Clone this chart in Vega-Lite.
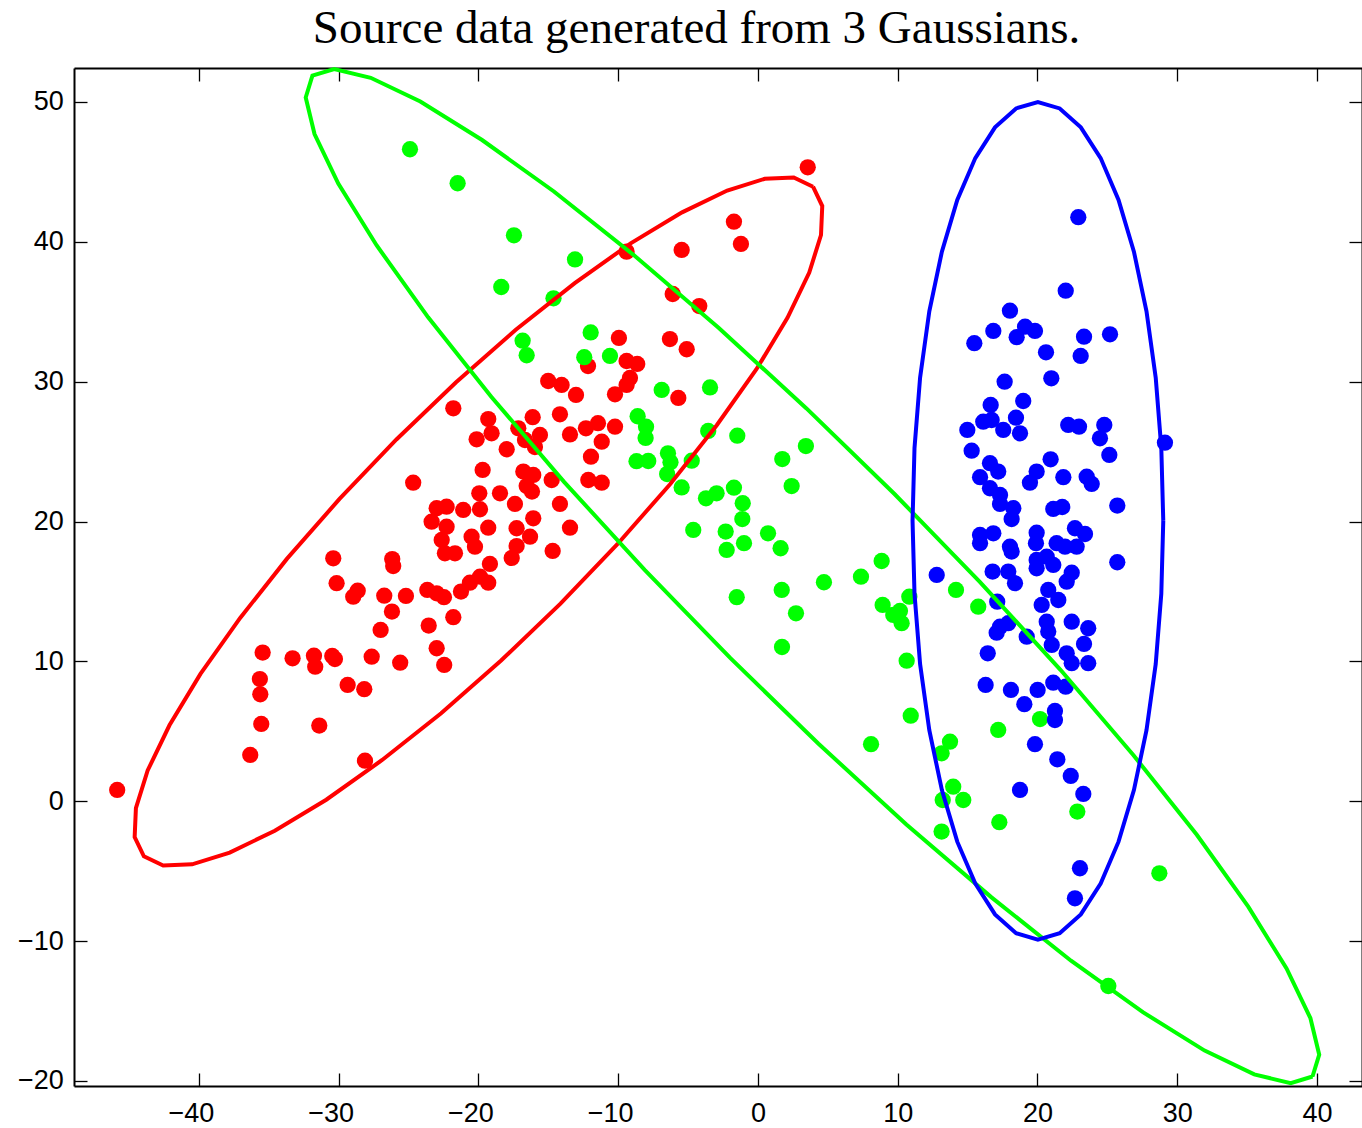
{
  "$schema": "https://vega.github.io/schema/vega-lite/v6.json",
  "width": 1288,
  "height": 1018,
  "autosize": {"type": "none"},
  "padding": {"left": 74, "top": 68, "right": 0, "bottom": 42},
  "background": "white",
  "config": {"view": {"stroke": null}},
  "title": {
    "text": "Source data generated from 3 Gaussians.",
    "font": "Liberation Serif",
    "fontSize": 47,
    "fontWeight": "normal",
    "color": "black",
    "anchor": "middle",
    "frame": "group",
    "dx": -21.5,
    "dy": 42,
    "baseline": "alphabetic",
    "offset": 13
  },
  "datasets": {
    "pts": [
      {"g":"r","x":3.56,"y":45.33},{"g":"r","x":-1.72,"y":41.44},{"g":"r","x":-1.22,"y":39.85},{"g":"r","x":-5.46,"y":39.42},
      {"g":"r","x":-9.40,"y":39.30},{"g":"r","x":-6.10,"y":36.27},{"g":"r","x":-4.20,"y":35.41},{"g":"r","x":-9.95,"y":33.13},
      {"g":"r","x":-6.30,"y":33.05},{"g":"r","x":-5.10,"y":32.32},{"g":"r","x":-12.16,"y":31.12},{"g":"r","x":-9.40,"y":31.48},
      {"g":"r","x":-8.64,"y":31.27},{"g":"r","x":-9.16,"y":30.27},{"g":"r","x":-9.40,"y":29.77},{"g":"r","x":-10.23,"y":29.10},
      {"g":"r","x":-5.70,"y":28.84},{"g":"r","x":-15.01,"y":30.05},{"g":"r","x":-14.05,"y":29.77},{"g":"r","x":-13.02,"y":29.05},
      {"g":"r","x":-14.17,"y":27.67},{"g":"r","x":-16.12,"y":27.46},{"g":"r","x":-17.15,"y":26.67},{"g":"r","x":-15.60,"y":26.19},
      {"g":"r","x":-15.96,"y":25.33},{"g":"r","x":-16.67,"y":25.83},{"g":"r","x":-17.98,"y":25.17},{"g":"r","x":-13.45,"y":26.23},
      {"g":"r","x":-12.31,"y":26.67},{"g":"r","x":-11.45,"y":27.03},{"g":"r","x":-10.23,"y":26.78},{"g":"r","x":-11.18,"y":25.71},
      {"g":"r","x":-11.95,"y":24.64},{"g":"r","x":-12.14,"y":22.97},{"g":"r","x":-11.18,"y":22.78},{"g":"r","x":-16.79,"y":23.57},
      {"g":"r","x":-16.08,"y":23.33},{"g":"r","x":-16.55,"y":22.54},{"g":"r","x":-16.17,"y":22.14},{"g":"r","x":-14.76,"y":22.97},
      {"g":"r","x":-14.17,"y":21.26},{"g":"r","x":-13.45,"y":19.56},{"g":"r","x":-14.69,"y":17.90},{"g":"r","x":-21.80,"y":28.10},
      {"g":"r","x":-19.30,"y":27.33},{"g":"r","x":-19.06,"y":26.31},{"g":"r","x":-20.13,"y":25.88},{"g":"r","x":-19.70,"y":23.69},
      {"g":"r","x":-24.67,"y":22.78},{"g":"r","x":-19.94,"y":22.02},{"g":"r","x":-18.46,"y":22.02},{"g":"r","x":-17.39,"y":21.26},
      {"g":"r","x":-19.89,"y":20.88},{"g":"r","x":-22.99,"y":20.95},{"g":"r","x":-22.28,"y":21.06},{"g":"r","x":-21.09,"y":20.83},
      {"g":"r","x":-23.35,"y":19.99},{"g":"r","x":-22.28,"y":19.63},{"g":"r","x":-19.30,"y":19.56},{"g":"r","x":-20.49,"y":18.92},
      {"g":"r","x":-20.25,"y":18.20},{"g":"r","x":-22.63,"y":18.68},{"g":"r","x":-21.68,"y":17.73},{"g":"r","x":-22.40,"y":17.73},
      {"g":"r","x":-16.08,"y":20.23},{"g":"r","x":-17.27,"y":19.52},{"g":"r","x":-16.31,"y":18.92},{"g":"r","x":-17.27,"y":18.25},
      {"g":"r","x":-17.62,"y":17.40},
      {"g":"r","x":-30.39,"y":17.37},{"g":"r","x":-26.17,"y":17.32},{"g":"r","x":-26.10,"y":16.82},{"g":"r","x":-30.15,"y":15.59},
      {"g":"r","x":-28.96,"y":14.63},{"g":"r","x":-28.64,"y":15.06},{"g":"r","x":-26.74,"y":14.70},{"g":"r","x":-25.19,"y":14.68},
      {"g":"r","x":-26.19,"y":13.56},{"g":"r","x":-23.66,"y":15.11},{"g":"r","x":-22.99,"y":14.87},{"g":"r","x":-22.47,"y":14.59},
      {"g":"r","x":-21.25,"y":14.99},{"g":"r","x":-20.61,"y":15.63},{"g":"r","x":-19.89,"y":16.06},{"g":"r","x":-19.30,"y":15.63},
      {"g":"r","x":-19.18,"y":16.97},{"g":"r","x":-21.80,"y":13.16},{"g":"r","x":-27.00,"y":12.25},{"g":"r","x":-23.56,"y":12.56},
      {"g":"r","x":-22.99,"y":10.94},{"g":"r","x":-22.45,"y":9.75},{"g":"r","x":-35.44,"y":10.63},{"g":"r","x":-33.30,"y":10.22},
      {"g":"r","x":-31.77,"y":10.41},{"g":"r","x":-31.68,"y":9.62},{"g":"r","x":-30.46,"y":10.39},{"g":"r","x":-30.27,"y":10.17},
      {"g":"r","x":-27.64,"y":10.34},{"g":"r","x":-25.60,"y":9.91},{"g":"r","x":-35.64,"y":8.74},{"g":"r","x":-35.61,"y":7.65},
      {"g":"r","x":-29.36,"y":8.32},{"g":"r","x":-28.17,"y":8.01},{"g":"r","x":-35.54,"y":5.53},{"g":"r","x":-31.39,"y":5.41},
      {"g":"r","x":-36.33,"y":3.31},{"g":"r","x":-28.12,"y":2.90},{"g":"r","x":-45.85,"y":0.81},

      {"g":"g","x":-24.90,"y":46.62},{"g":"g","x":-21.49,"y":44.19},{"g":"g","x":-17.46,"y":40.47},{"g":"g","x":-13.09,"y":38.74},
      {"g":"g","x":-18.37,"y":36.77},{"g":"g","x":-14.63,"y":35.96},{"g":"g","x":-16.84,"y":32.93},{"g":"g","x":-16.55,"y":31.89},
      {"g":"g","x":-11.97,"y":33.52},{"g":"g","x":-12.43,"y":31.75},{"g":"g","x":-10.59,"y":31.84},{"g":"g","x":-6.89,"y":29.41},
      {"g":"g","x":-3.43,"y":29.59},{"g":"g","x":-8.61,"y":27.53},{"g":"g","x":-8.01,"y":26.78},{"g":"g","x":-8.04,"y":25.98},
      {"g":"g","x":-8.69,"y":24.32},{"g":"g","x":-7.85,"y":24.33},{"g":"g","x":-6.44,"y":24.88},{"g":"g","x":-6.26,"y":24.24},
      {"g":"g","x":-6.50,"y":23.40},{"g":"g","x":-4.74,"y":24.35},{"g":"g","x":-5.46,"y":22.44},{"g":"g","x":-3.56,"y":26.48},
      {"g":"g","x":-1.48,"y":26.14},{"g":"g","x":-3.72,"y":21.66},{"g":"g","x":-2.96,"y":22.02},{"g":"g","x":-1.72,"y":22.42},
      {"g":"g","x":-1.09,"y":21.31},{"g":"g","x":-1.12,"y":20.18},{"g":"g","x":-4.63,"y":19.40},{"g":"g","x":-2.31,"y":19.28},
      {"g":"g","x":-2.24,"y":17.97},{"g":"g","x":-1.00,"y":18.45},{"g":"g","x":0.72,"y":19.16},{"g":"g","x":1.62,"y":18.09},
      {"g":"g","x":3.43,"y":25.40},{"g":"g","x":1.74,"y":24.47},{"g":"g","x":2.41,"y":22.54},{"g":"g","x":4.72,"y":15.66},
      {"g":"g","x":1.70,"y":15.11},{"g":"g","x":-1.52,"y":14.59},{"g":"g","x":2.72,"y":13.44},{"g":"g","x":1.72,"y":11.03},
      {"g":"g","x":8.85,"y":17.18},{"g":"g","x":7.37,"y":16.06},{"g":"g","x":10.83,"y":14.63},{"g":"g","x":8.92,"y":14.04},
      {"g":"g","x":9.68,"y":13.32},{"g":"g","x":10.16,"y":13.61},{"g":"g","x":10.28,"y":12.73},{"g":"g","x":14.17,"y":15.11},
      {"g":"g","x":15.76,"y":13.91},{"g":"g","x":10.64,"y":10.05},{"g":"g","x":10.93,"y":6.12},{"g":"g","x":8.09,"y":4.08},
      {"g":"g","x":13.74,"y":4.26},{"g":"g","x":13.14,"y":3.43},{"g":"g","x":17.19,"y":5.10},{"g":"g","x":20.18,"y":5.88},
      {"g":"g","x":13.97,"y":1.04},{"g":"g","x":13.22,"y":0.09},{"g":"g","x":14.69,"y":0.09},{"g":"g","x":13.14,"y":-2.17},
      {"g":"g","x":17.27,"y":-1.50},{"g":"g","x":22.85,"y":-0.74},{"g":"g","x":28.72,"y":-5.15},{"g":"g","x":25.07,"y":-13.21},

      {"g":"b","x":22.92,"y":41.76},{"g":"b","x":22.02,"y":36.51},{"g":"b","x":18.03,"y":35.08},{"g":"b","x":16.84,"y":33.63},
      {"g":"b","x":15.48,"y":32.75},{"g":"b","x":19.11,"y":33.93},{"g":"b","x":19.82,"y":33.63},{"g":"b","x":18.51,"y":33.18},
      {"g":"b","x":20.61,"y":32.10},{"g":"b","x":23.33,"y":33.22},{"g":"b","x":23.09,"y":31.84},{"g":"b","x":25.19,"y":33.39},
      {"g":"b","x":17.65,"y":30.00},{"g":"b","x":20.99,"y":30.24},{"g":"b","x":18.98,"y":28.62},{"g":"b","x":18.46,"y":27.43},
      {"g":"b","x":16.65,"y":28.34},{"g":"b","x":16.12,"y":27.14},{"g":"b","x":16.72,"y":27.26},{"g":"b","x":17.55,"y":26.55},
      {"g":"b","x":18.75,"y":26.31},{"g":"b","x":14.98,"y":26.55},{"g":"b","x":22.20,"y":26.91},{"g":"b","x":22.97,"y":26.78},
      {"g":"b","x":24.78,"y":26.91},{"g":"b","x":24.47,"y":25.95},{"g":"b","x":25.14,"y":24.76},{"g":"b","x":29.12,"y":25.64},
      {"g":"b","x":15.29,"y":25.07},{"g":"b","x":16.60,"y":24.17},{"g":"b","x":17.19,"y":23.57},{"g":"b","x":15.89,"y":23.17},
      {"g":"b","x":16.60,"y":22.38},{"g":"b","x":17.32,"y":21.90},{"g":"b","x":20.94,"y":24.45},{"g":"b","x":19.94,"y":23.57},
      {"g":"b","x":19.46,"y":22.78},{"g":"b","x":21.85,"y":23.17},{"g":"b","x":23.52,"y":23.21},{"g":"b","x":23.88,"y":22.69},
      {"g":"b","x":25.71,"y":21.14},{"g":"b","x":17.32,"y":21.26},{"g":"b","x":18.27,"y":20.95},{"g":"b","x":18.15,"y":20.18},
      {"g":"b","x":21.13,"y":20.90},{"g":"b","x":21.77,"y":21.04},{"g":"b","x":15.89,"y":19.04},{"g":"b","x":16.84,"y":19.16},
      {"g":"b","x":15.89,"y":18.45},{"g":"b","x":18.03,"y":18.20},{"g":"b","x":18.15,"y":17.85},{"g":"b","x":19.94,"y":19.20},
      {"g":"b","x":19.89,"y":18.45},{"g":"b","x":19.94,"y":17.25},{"g":"b","x":19.94,"y":16.66},{"g":"b","x":20.66,"y":17.49},
      {"g":"b","x":21.13,"y":16.90},{"g":"b","x":22.68,"y":19.52},{"g":"b","x":23.40,"y":19.11},{"g":"b","x":22.80,"y":18.20},
      {"g":"b","x":21.97,"y":18.20},{"g":"b","x":21.37,"y":18.45},{"g":"b","x":22.45,"y":16.34},{"g":"b","x":22.09,"y":15.70},
      {"g":"b","x":16.79,"y":16.42},{"g":"b","x":17.91,"y":16.42},{"g":"b","x":18.39,"y":15.59},{"g":"b","x":12.79,"y":16.18},
      {"g":"b","x":20.77,"y":15.11},{"g":"b","x":20.30,"y":14.04},{"g":"b","x":21.49,"y":14.39},{"g":"b","x":17.12,"y":14.27},
      {"g":"b","x":17.32,"y":12.48},{"g":"b","x":17.91,"y":12.73},{"g":"b","x":17.08,"y":12.05},{"g":"b","x":20.66,"y":12.84},
      {"g":"b","x":20.77,"y":12.13},{"g":"b","x":21.02,"y":11.18},{"g":"b","x":19.23,"y":11.77},{"g":"b","x":22.45,"y":12.84},
      {"g":"b","x":23.63,"y":12.37},{"g":"b","x":23.33,"y":11.25},{"g":"b","x":22.09,"y":10.58},{"g":"b","x":22.45,"y":9.87},
      {"g":"b","x":23.63,"y":9.87},{"g":"b","x":16.44,"y":10.58},{"g":"b","x":16.29,"y":8.32},{"g":"b","x":18.10,"y":7.96},
      {"g":"b","x":19.06,"y":6.94},{"g":"b","x":20.01,"y":7.96},{"g":"b","x":21.13,"y":8.48},{"g":"b","x":22.02,"y":8.19},
      {"g":"b","x":21.25,"y":6.46},{"g":"b","x":21.25,"y":5.81},{"g":"b","x":19.82,"y":4.08},{"g":"b","x":21.42,"y":3.00},
      {"g":"b","x":22.38,"y":1.81},{"g":"b","x":23.28,"y":0.52},{"g":"b","x":18.75,"y":0.81},{"g":"b","x":23.04,"y":-4.79},
      {"g":"b","x":22.68,"y":-6.94},{"g":"b","x":25.71,"y":17.09}
    ],
    "ell": [
      {"e":"r","k":0,"x":3.94,"y":43.94},{"e":"r","k":1,"x":2.56,"y":44.60},{"e":"r","k":2,"x":0.49,"y":44.51},{"e":"r","k":3,"x":-2.20,"y":43.67},
      {"e":"r","k":4,"x":-5.43,"y":42.11},{"e":"r","k":5,"x":-9.11,"y":39.89},{"e":"r","k":6,"x":-13.11,"y":37.05},{"e":"r","k":7,"x":-17.33,"y":33.71},
      {"e":"r","k":8,"x":-21.62,"y":29.94},{"e":"r","k":9,"x":-25.87,"y":25.87},{"e":"r","k":10,"x":-29.94,"y":21.62},{"e":"r","k":11,"x":-33.71,"y":17.33},
      {"e":"r","k":12,"x":-37.05,"y":13.11},{"e":"r","k":13,"x":-39.89,"y":9.11},{"e":"r","k":14,"x":-42.11,"y":5.43},{"e":"r","k":15,"x":-43.67,"y":2.20},
      {"e":"r","k":16,"x":-44.51,"y":-0.49},{"e":"r","k":17,"x":-44.60,"y":-2.56},{"e":"r","k":18,"x":-43.94,"y":-3.94},{"e":"r","k":19,"x":-42.56,"y":-4.60},
      {"e":"r","k":20,"x":-40.49,"y":-4.51},{"e":"r","k":21,"x":-37.80,"y":-3.67},{"e":"r","k":22,"x":-34.57,"y":-2.11},{"e":"r","k":23,"x":-30.89,"y":0.11},
      {"e":"r","k":24,"x":-26.89,"y":2.95},{"e":"r","k":25,"x":-22.67,"y":6.29},{"e":"r","k":26,"x":-18.38,"y":10.06},{"e":"r","k":27,"x":-14.13,"y":14.13},
      {"e":"r","k":28,"x":-10.06,"y":18.38},{"e":"r","k":29,"x":-6.29,"y":22.67},{"e":"r","k":30,"x":-2.95,"y":26.89},{"e":"r","k":31,"x":-0.11,"y":30.89},
      {"e":"r","k":32,"x":2.11,"y":34.57},{"e":"r","k":33,"x":3.67,"y":37.80},{"e":"r","k":34,"x":4.51,"y":40.49},{"e":"r","k":35,"x":4.60,"y":42.56},
      {"e":"r","k":36,"x":3.94,"y":43.94},

      {"e":"g","k":0,"x":39.68,"y":-19.68},{"e":"g","k":1,"x":40.16,"y":-18.12},{"e":"g","k":2,"x":39.53,"y":-15.51},{"e":"g","k":3,"x":37.82,"y":-11.95},
      {"e":"g","k":4,"x":35.08,"y":-7.54},{"e":"g","k":5,"x":31.40,"y":-2.40},{"e":"g","k":6,"x":26.87,"y":3.29},{"e":"g","k":7,"x":21.66,"y":9.38},
      {"e":"g","k":8,"x":15.89,"y":15.67},{"e":"g","k":9,"x":9.77,"y":21.97},{"e":"g","k":10,"x":3.47,"y":28.09},{"e":"g","k":11,"x":-2.82,"y":33.86},
      {"e":"g","k":12,"x":-8.91,"y":39.07},{"e":"g","k":13,"x":-14.60,"y":43.60},{"e":"g","k":14,"x":-19.74,"y":47.28},{"e":"g","k":15,"x":-24.16,"y":50.03},
      {"e":"g","k":16,"x":-27.71,"y":51.73},{"e":"g","k":17,"x":-30.32,"y":52.36},{"e":"g","k":18,"x":-31.88,"y":51.88},{"e":"g","k":19,"x":-32.36,"y":50.32},
      {"e":"g","k":20,"x":-31.73,"y":47.71},{"e":"g","k":21,"x":-30.03,"y":44.16},{"e":"g","k":22,"x":-27.28,"y":39.74},{"e":"g","k":23,"x":-23.60,"y":34.60},
      {"e":"g","k":24,"x":-19.07,"y":28.91},{"e":"g","k":25,"x":-13.86,"y":22.82},{"e":"g","k":26,"x":-8.09,"y":16.53},{"e":"g","k":27,"x":-1.97,"y":10.23},
      {"e":"g","k":28,"x":4.33,"y":4.11},{"e":"g","k":29,"x":10.62,"y":-1.66},{"e":"g","k":30,"x":16.71,"y":-6.87},{"e":"g","k":31,"x":22.40,"y":-11.40},
      {"e":"g","k":32,"x":27.54,"y":-15.08},{"e":"g","k":33,"x":31.96,"y":-17.83},{"e":"g","k":34,"x":35.51,"y":-19.53},{"e":"g","k":35,"x":38.12,"y":-20.16},
      {"e":"g","k":36,"x":39.68,"y":-19.68},

      {"e":"b","k":0,"x":29.00,"y":20.05},{"e":"b","k":1,"x":28.86,"y":25.25},{"e":"b","k":2,"x":28.46,"y":30.29},{"e":"b","k":3,"x":27.80,"y":35.03},
      {"e":"b","k":4,"x":26.90,"y":39.30},{"e":"b","k":5,"x":25.80,"y":42.99},{"e":"b","k":6,"x":24.52,"y":45.99},{"e":"b","k":7,"x":23.10,"y":48.19},
      {"e":"b","k":8,"x":21.59,"y":49.54},{"e":"b","k":9,"x":20.03,"y":50.00},{"e":"b","k":10,"x":18.47,"y":49.54},{"e":"b","k":11,"x":16.96,"y":48.19},
      {"e":"b","k":12,"x":15.55,"y":45.99},{"e":"b","k":13,"x":14.26,"y":42.99},{"e":"b","k":14,"x":13.16,"y":39.30},{"e":"b","k":15,"x":12.26,"y":35.03},
      {"e":"b","k":16,"x":11.60,"y":30.29},{"e":"b","k":17,"x":11.20,"y":25.25},{"e":"b","k":18,"x":11.06,"y":20.05},{"e":"b","k":19,"x":11.20,"y":14.85},
      {"e":"b","k":20,"x":11.60,"y":9.81},{"e":"b","k":21,"x":12.26,"y":5.08},{"e":"b","k":22,"x":13.16,"y":0.80},{"e":"b","k":23,"x":14.26,"y":-2.89},
      {"e":"b","k":24,"x":15.55,"y":-5.89},{"e":"b","k":25,"x":16.96,"y":-8.09},{"e":"b","k":26,"x":18.47,"y":-9.44},{"e":"b","k":27,"x":20.03,"y":-9.90},
      {"e":"b","k":28,"x":21.59,"y":-9.44},{"e":"b","k":29,"x":23.10,"y":-8.09},{"e":"b","k":30,"x":24.52,"y":-5.89},{"e":"b","k":31,"x":25.80,"y":-2.89},
      {"e":"b","k":32,"x":26.90,"y":0.80},{"e":"b","k":33,"x":27.80,"y":5.08},{"e":"b","k":34,"x":28.46,"y":9.81},{"e":"b","k":35,"x":28.86,"y":14.85},
      {"e":"b","k":36,"x":29.00,"y":20.05}
    ]
  },
  "resolve": {"axis": {"x": "independent", "y": "independent"}},
  "layer": [
    {
      "data": {"name": "pts"},
      "mark": {"type": "circle", "size": 265, "opacity": 1},
      "encoding": {
        "x": {
          "field": "x", "type": "quantitative",
          "scale": {"domain": [-48.94, 43.22], "nice": false, "zero": false},
          "axis": {
            "orient": "bottom", "title": null, "grid": false,
            "values": [-40, -30, -20, -10, 0, 10, 20, 30, 40],
            "tickSize": -13, "tickWidth": 1.3, "tickColor": "black",
            "domainColor": "black", "domainWidth": 2,
            "labelFont": "Liberation Sans", "labelFontSize": 27, "labelColor": "black",
            "labelPadding": 27.4, "labelFlush": false, "labelOverlap": false,
            "labelOffset": {"condition": {"test": "datum.value < 0", "value": -8}, "value": 0}
          }
        },
        "y": {
          "field": "y", "type": "quantitative",
          "scale": {"domain": [-20.36, 52.43], "nice": false, "zero": false},
          "axis": {
            "orient": "left", "title": null, "grid": false,
            "values": [-20, -10, 0, 10, 20, 30, 40, 50],
            "tickSize": -13, "tickWidth": 1.3, "tickColor": "black",
            "domainColor": "black", "domainWidth": 2,
            "labelFont": "Liberation Sans", "labelFontSize": 27, "labelColor": "black",
            "labelPadding": 23.7, "labelFlush": false, "labelOverlap": false
          }
        },
        "color": {
          "field": "g", "type": "nominal",
          "scale": {"domain": ["r", "g", "b"], "range": ["#ff0000", "#00ff00", "#0000ff"]},
          "legend": null
        }
      }
    },
    {
      "data": {"name": "ell"},
      "transform": [{"filter": "datum.e === 'r'"}],
      "mark": {"type": "line", "color": "#ff0000", "strokeWidth": 4},
      "encoding": {
        "x": {
          "field": "x", "type": "quantitative",
          "scale": {"domain": [-48.94, 43.22], "nice": false, "zero": false},
          "axis": {
            "orient": "top", "title": null, "grid": false, "labels": false,
            "values": [-40, -30, -20, -10, 0, 10, 20, 30, 40],
            "tickSize": -13, "tickWidth": 1.3, "tickColor": "black",
            "domainColor": "black", "domainWidth": 2
          }
        },
        "y": {
          "field": "y", "type": "quantitative",
          "scale": {"domain": [-20.36, 52.43], "nice": false, "zero": false},
          "axis": {
            "orient": "right", "title": null, "grid": false, "labels": false,
            "values": [-20, -10, 0, 10, 20, 30, 40, 50],
            "tickSize": -13, "tickWidth": 1.3, "tickColor": "black",
            "domainColor": "black", "domainWidth": 2
          }
        },
        "order": {"field": "k", "type": "quantitative"}
      }
    },
    {
      "data": {"name": "ell"},
      "transform": [{"filter": "datum.e === 'g'"}],
      "mark": {"type": "line", "color": "#00ff00", "strokeWidth": 4},
      "encoding": {
        "x": {"field": "x", "type": "quantitative", "scale": {"domain": [-48.94, 43.22], "nice": false, "zero": false}, "axis": null},
        "y": {"field": "y", "type": "quantitative", "scale": {"domain": [-20.36, 52.43], "nice": false, "zero": false}, "axis": null},
        "order": {"field": "k", "type": "quantitative"}
      }
    },
    {
      "data": {"name": "ell"},
      "transform": [{"filter": "datum.e === 'b'"}],
      "mark": {"type": "line", "color": "#0000ff", "strokeWidth": 4},
      "encoding": {
        "x": {"field": "x", "type": "quantitative", "scale": {"domain": [-48.94, 43.22], "nice": false, "zero": false}, "axis": null},
        "y": {"field": "y", "type": "quantitative", "scale": {"domain": [-20.36, 52.43], "nice": false, "zero": false}, "axis": null},
        "order": {"field": "k", "type": "quantitative"}
      }
    }
  ]
}
